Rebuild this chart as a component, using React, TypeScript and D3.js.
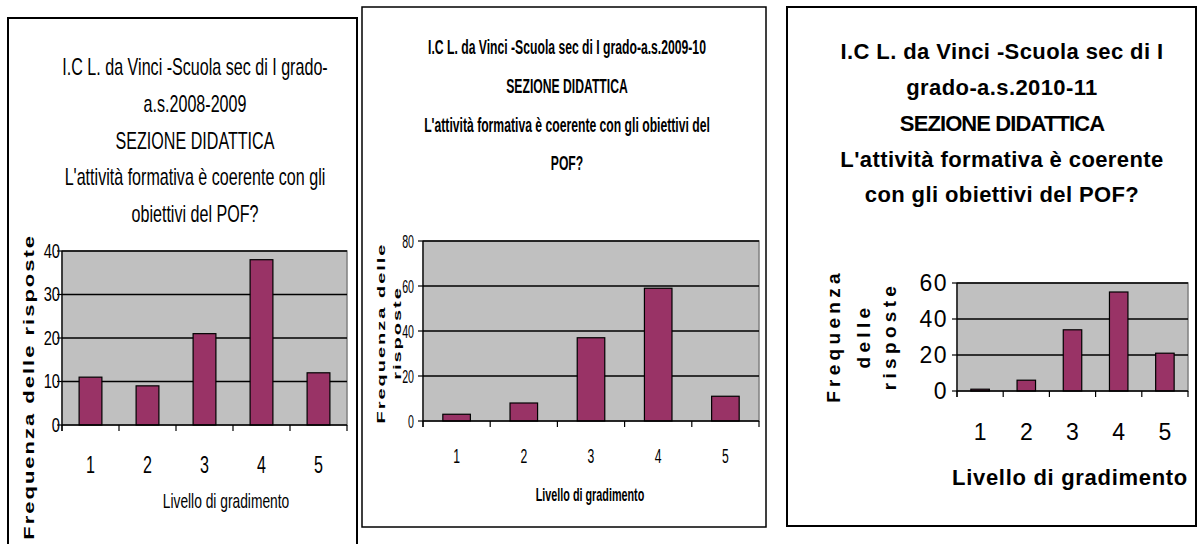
import React from "react";
import * as d3 from "d3";

const categories = ["1", "2", "3", "4", "5"];
const values2008 = [11, 9, 21, 38, 12];
const values2009 = [3, 8, 37, 59, 11];
const values2010 = [1, 6, 34, 55, 21];
const ticks2008 = [0, 10, 20, 30, 40];
const ticks2009 = [0, 20, 40, 60, 80];
const ticks2010 = [0, 20, 40, 60];
const title2008 = [
  "I.C L. da Vinci -Scuola sec di I grado-",
  "a.s.2008-2009",
  "SEZIONE DIDATTICA",
  "L'attività formativa è coerente con gli",
  "obiettivi del POF?",
];
const title2009 = [
  "I.C L. da Vinci -Scuola sec di I grado-a.s.2009-10",
  "SEZIONE DIDATTICA",
  "L'attività formativa è coerente con gli obiettivi del",
  "POF?",
];
const title2010 = [
  "I.C L. da Vinci -Scuola sec di I",
  "grado-a.s.2010-11",
  "SEZIONE DIDATTICA",
  "L'attività formativa è coerente",
  "con gli obiettivi del POF?",
];
const yTitle1 = ["Frequenza delle risposte"];
const yTitle2 = ["Frequenza delle", "risposte"];
const yTitle3 = ["Frequenza", "delle", "risposte"];
const xTitle = "Livello di gradimento";

const ARIAL = "'Liberation Sans', Arial, sans-serif";
const BAR = "#993366";
const PLOT_BG = "#c0c0c0";

type TextStyle = { size: number; weight?: string | number; spacing?: number; squeeze?: number };

type PanelCfg = {
  border: { x: number; y: number; w: number; h: number; sw: number };
  plot: { x0: number; x1: number; y0: number; y1: number };
  values: number[];
  ticks: number[];
  title: string[];
  titleX: number;
  titleY: number[];
  titleStyle: TextStyle;
  titleSpacing?: number[];
  yTitle: string[];
  yTitleX: number[];
  yTitleY: number;
  yTitleAnchor: "middle" | "end" | "start";
  yTitleStyle: TextStyle;
  tickStyle: TextStyle;
  tickLabelGap: number;
  catY: number;
  catStyle: TextStyle;
  xTitleX: number;
  xTitleY: number;
  xTitleStyle: TextStyle;
  barFrac: number;
};

function Txt({
  x,
  y,
  s,
  anchor = "middle",
  rotate = 0,
  spacing,
  children,
}: {
  x: number;
  y: number;
  s: TextStyle;
  anchor?: "middle" | "end" | "start";
  rotate?: number;
  spacing?: number;
  children: React.ReactNode;
}) {
  const k = s.squeeze ?? 1;
  return (
    <text
      transform={`translate(${x},${y}) scale(${k},1) rotate(${rotate})`}
      textAnchor={anchor}
      dominantBaseline="central"
      style={{
        fontSize: s.size,
        fontFamily: ARIAL,
        fontWeight: s.weight ?? "normal",
        letterSpacing: spacing ?? s.spacing ?? 0,
      }}
    >
      {children}
    </text>
  );
}

function Panel({ cfg }: { cfg: PanelCfg }) {
  const { plot } = cfg;
  const max = cfg.ticks[cfg.ticks.length - 1];
  const y = d3.scaleLinear().domain([0, max]).range([plot.y1, plot.y0]);
  const x = d3.scaleBand<string>().domain(categories).range([plot.x0, plot.x1]).paddingInner(0).paddingOuter(0);
  const bw = x.bandwidth() * cfg.barFrac;
  const boundaries = categories.map((c) => x(c) as number).concat([plot.x1]);
  return (
    <g>
      <rect
        x={cfg.border.x}
        y={cfg.border.y}
        width={cfg.border.w}
        height={cfg.border.h}
        fill="white"
        stroke="black"
        strokeWidth={cfg.border.sw}
      />
      {cfg.title.map((t, i) => (
        <Txt key={i} x={cfg.titleX} y={cfg.titleY[i]} s={cfg.titleStyle} spacing={cfg.titleSpacing?.[i]}>
          {t}
        </Txt>
      ))}
      <rect x={plot.x0} y={plot.y0} width={plot.x1 - plot.x0} height={plot.y1 - plot.y0} fill={PLOT_BG} stroke="#808080" strokeWidth={1.5} />
      {cfg.ticks.slice(1).map((t) => (
        <line key={t} x1={plot.x0} x2={plot.x1} y1={y(t)} y2={y(t)} stroke="black" strokeWidth={1.5} />
      ))}
      {cfg.values.map((v, i) => {
        const cx = (x(categories[i]) as number) + x.bandwidth() / 2;
        return (
          <rect key={i} x={cx - bw / 2} y={y(v)} width={bw} height={y(0) - y(v)} fill={BAR} stroke="black" strokeWidth={1.2} />
        );
      })}
      <line x1={plot.x0} x2={plot.x0} y1={plot.y0} y2={plot.y1 + 6} stroke="black" strokeWidth={1.2} />
      <line x1={plot.x0} x2={plot.x1} y1={plot.y1} y2={plot.y1} stroke="black" strokeWidth={1.5} />
      {cfg.ticks.map((t) => (
        <g key={t}>
          <line x1={plot.x0 - 5} x2={plot.x0} y1={y(t)} y2={y(t)} stroke="black" strokeWidth={1.2} />
          <Txt x={plot.x0 - cfg.tickLabelGap} y={y(t)} s={cfg.tickStyle} anchor="end">
            {t}
          </Txt>
        </g>
      ))}
      {boundaries.map((b, i) => (
        <line key={i} x1={b} x2={b} y1={plot.y1} y2={plot.y1 + 6} stroke="black" strokeWidth={1.2} />
      ))}
      {categories.map((c) => (
        <Txt key={c} x={(x(c) as number) + x.bandwidth() / 2} y={cfg.catY} s={cfg.catStyle}>
          {c}
        </Txt>
      ))}
      <Txt x={cfg.xTitleX} y={cfg.xTitleY} s={cfg.xTitleStyle}>
        {xTitle}
      </Txt>
      {cfg.yTitle.map((t, i) => (
        <Txt key={i} x={cfg.yTitleX[i]} y={cfg.yTitleY} s={cfg.yTitleStyle} anchor={cfg.yTitleAnchor} rotate={-90}>
          {t}
        </Txt>
      ))}
    </g>
  );
}

const panel1: PanelCfg = {
  border: { x: 8, y: 18, w: 349, h: 560, sw: 2 },
  plot: { x0: 62, x1: 347, y0: 251, y1: 425 },
  values: values2008,
  ticks: ticks2008,
  title: title2008,
  titleX: 195,
  titleY: [67, 104, 140.5, 177, 214],
  titleStyle: { size: 23, squeeze: 0.7 },
  yTitle: yTitle1,
  yTitleX: [29],
  yTitleY: 234,
  yTitleAnchor: "end",
  yTitleStyle: { size: 22, weight: "bold", spacing: 2, squeeze: 0.7 },
  tickStyle: { size: 21, squeeze: 0.7 },
  tickLabelGap: 2,
  catY: 465,
  catStyle: { size: 23, squeeze: 0.7 },
  xTitleX: 226,
  xTitleY: 501,
  xTitleStyle: { size: 20, squeeze: 0.69 },
  barFrac: 0.4,
};

const panel2: PanelCfg = {
  border: { x: 362, y: 7, w: 404, h: 520, sw: 1.5 },
  plot: { x0: 423, x1: 759, y0: 241, y1: 421 },
  values: values2009,
  ticks: ticks2009,
  title: title2009,
  titleX: 567,
  titleY: [46.5, 85.5, 124.5, 162.5],
  titleStyle: { size: 21, weight: "bold", squeeze: 0.58 },
  yTitle: yTitle2,
  yTitleX: [381, 397],
  yTitleY: 333,
  yTitleAnchor: "middle",
  yTitleStyle: { size: 20, weight: "bold", spacing: 2, squeeze: 0.58 },
  tickStyle: { size: 19, squeeze: 0.56 },
  tickLabelGap: 9,
  catY: 456,
  catStyle: { size: 21, squeeze: 0.58 },
  xTitleX: 590,
  xTitleY: 495,
  xTitleStyle: { size: 18, weight: "bold", squeeze: 0.6 },
  barFrac: 0.41,
};

const panel3: PanelCfg = {
  border: { x: 787, y: 7, w: 409, h: 519, sw: 2 },
  plot: { x0: 957, x1: 1188, y0: 283, y1: 391 },
  values: values2010,
  ticks: ticks2010,
  title: title2010,
  titleX: 1002,
  titleY: [51, 87, 123, 159, 194],
  titleStyle: { size: 22, weight: "bold", spacing: 0.4 },
  titleSpacing: [0.4, 0.4, -0.9, 0.4, 0.4],
  yTitle: yTitle3,
  yTitleX: [833, 863, 889],
  yTitleY: 336,
  yTitleAnchor: "middle",
  yTitleStyle: { size: 19, weight: "bold", spacing: 4.3 },
  tickStyle: { size: 23, spacing: 1.5 },
  tickLabelGap: 9,
  catY: 432,
  catStyle: { size: 23 },
  xTitleX: 1070,
  xTitleY: 477,
  xTitleStyle: { size: 22, weight: "bold", spacing: 0.7 },
  barFrac: 0.4,
};

export default function App() {
  return (
    <svg width={1198} height={544} style={{ position: "absolute", left: 0, top: 0, background: "white" }}>
      <rect x={0} y={0} width={1198} height={544} fill="white" />
      <Panel cfg={panel1} />
      <Panel cfg={panel2} />
      <Panel cfg={panel3} />
    </svg>
  );
}
